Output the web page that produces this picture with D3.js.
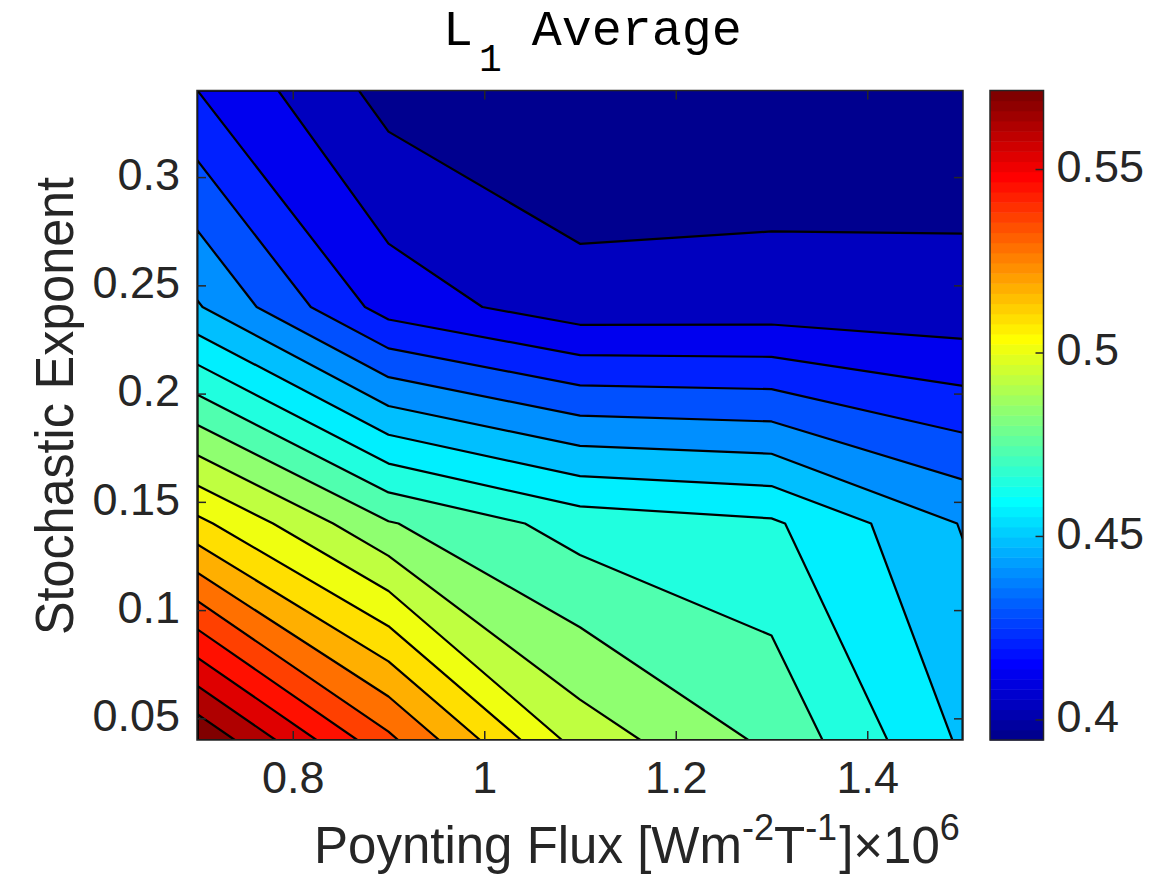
<!DOCTYPE html>
<html lang="en">
<head>
<meta charset="UTF-8">
<title>L1 Average</title>
<script src="https://d3js.org/d3.v7.min.js"></script>
<style>
  body { margin: 0; background: #fff; }
  text { fill: #262626; font-family: "Liberation Sans", Arial, Helvetica, sans-serif; }
  .tick text { font-size: 45px; }
  .title { font-family: "Liberation Mono", "Courier New", Courier, monospace; fill: #000; }
</style>
</head>
<body>
<svg id="chart" width="1173" height="874"></svg>
<script>
// sample grid: Poynting flux (x) and stochastic exponent (y)
const fluxValues = [0.7, 0.9, 1.1, 1.3, 1.5];
const exponentValues = [0.04, 0.14, 0.24, 0.34];
// L1 average, one row per exponent (lowest exponent first)
const l1Rows = [
  [0.5796, 0.5381, 0.4967, 0.4810, 0.4549],
  [0.5118, 0.4836, 0.4702, 0.4666, 0.4469],
  [0.4484, 0.4171, 0.4069, 0.4073, 0.4061],
  [0.4210, 0.4000, 0.3944, 0.3957, 0.3977]
];
const colorLimits = [0.3944, 0.5714];   // range shown on the colour bar
const xTicks = [0.8, 1, 1.2, 1.4];
const yTicks = [0.05, 0.1, 0.15, 0.2, 0.25, 0.3];
const cbarTicks = [0.4, 0.45, 0.5, 0.55];
const nLevels = 20;

const svg = d3.select("#chart");
const plot = { left: 197, right: 963, top: 90.5, bottom: 740 };
const cbar = { left: 990, right: 1043.5 };

const x = d3.scaleLinear().domain(d3.extent(fluxValues)).range([plot.left, plot.right]);
const y = d3.scaleLinear().domain(d3.extent(exponentValues)).range([plot.bottom, plot.top]);

const n = fluxValues.length, m = exponentValues.length;
const values = l1Rows.flat();
const [c0, c1] = colorLimits;
const levels = d3.range(1, nLevels + 1).map(k => c0 + k * (c1 - c0) / nLevels);

// MATLAB jet(64)
function jet(t) {
  const c = v => Math.max(0, Math.min(1, v));
  return d3.rgb(255 * c(1.5 - Math.abs(4 * t - 3)),
                255 * c(1.5 - Math.abs(4 * t - 2)),
                255 * c(1.5 - Math.abs(4 * t - 1))).formatHex();
}
const jetMap = d3.range(64).map(i => jet((i + 1) / 64));
const color = d3.scaleQuantize().domain(colorLimits).range(jetMap);

// contour grid coords -> data coords (samples sit at i + 0.5)
const gx = d3.scaleLinear().domain([0.5, n - 0.5]).range([0, n - 1]).clamp(true);
const gy = d3.scaleLinear().domain([0.5, m - 0.5]).range([0, m - 1]).clamp(true);
const fluxAt = d3.scaleLinear().domain(d3.range(n)).range(fluxValues);
const expAt = d3.scaleLinear().domain(d3.range(m)).range(exponentValues);
const path = d3.geoPath(d3.geoTransform({
  point(px, py) { this.stream.point(x(fluxAt(gx(px))), y(expAt(gy(py)))); }
}));

const contours = d3.contours().size([n, m]).thresholds(levels)(values);

svg.append("clipPath").attr("id", "plotClip")
  .append("rect")
  .attr("x", plot.left).attr("y", plot.top)
  .attr("width", plot.right - plot.left).attr("height", plot.bottom - plot.top);

const area = svg.append("g").attr("clip-path", "url(#plotClip)");
area.append("rect")
  .attr("x", plot.left).attr("y", plot.top)
  .attr("width", plot.right - plot.left).attr("height", plot.bottom - plot.top)
  .attr("fill", color(c0));

area.append("g").selectAll("path")
  .data(contours)
  .join("path")
  .attr("d", path)
  .attr("fill", d => color(d.value));

area.append("g").selectAll("path")
  .data(contours)
  .join("path")
  .attr("d", path)
  .attr("fill", "none")
  .attr("stroke", "#000")
  .attr("stroke-width", 2.2)
  .attr("stroke-linejoin", "round");

// axes, ticks pointing inward on all four sides
const fmt = d3.format("~g");
function styleAxis(g) {
  g.select(".domain").remove();
  g.selectAll(".tick line").attr("stroke", "#262626").attr("stroke-width", 1.5);
}
svg.append("g").attr("transform", `translate(0,${plot.bottom})`)
  .call(d3.axisBottom(x).tickValues(xTicks).tickFormat(fmt).tickSize(-9).tickPadding(21))
  .call(styleAxis);
svg.append("g").attr("transform", `translate(0,${plot.top})`)
  .call(d3.axisTop(x).tickValues(xTicks).tickFormat("").tickSize(-9))
  .call(styleAxis);
svg.append("g").attr("transform", `translate(${plot.left},0)`)
  .call(d3.axisLeft(y).tickValues(yTicks).tickFormat(fmt).tickSize(-9).tickPadding(17))
  .call(styleAxis)
  .selectAll("text").attr("dy", "0.27em");
svg.append("g").attr("transform", `translate(${plot.right},0)`)
  .call(d3.axisRight(y).tickValues(yTicks).tickFormat("").tickSize(-9))
  .call(styleAxis);
svg.selectAll(".tick text").attr("fill", "#262626").style("font-family", null);

svg.append("rect")
  .attr("x", plot.left).attr("y", plot.top)
  .attr("width", plot.right - plot.left).attr("height", plot.bottom - plot.top)
  .attr("fill", "none").attr("stroke", "#262626").attr("stroke-width", 1.5);

// colorbar
const c = d3.scaleLinear().domain(colorLimits).range([plot.bottom, plot.top]);
const step = (c1 - c0) / jetMap.length;
svg.append("g").selectAll("rect")
  .data(jetMap)
  .join("rect")
  .attr("x", cbar.left)
  .attr("width", cbar.right - cbar.left)
  .attr("y", (d, i) => c(c0 + (i + 1) * step))
  .attr("height", (d, i) => c(c0 + i * step) - c(c0 + (i + 1) * step) + 0.5)
  .attr("fill", d => d);
svg.append("g").attr("transform", `translate(${cbar.right},0)`)
  .call(d3.axisRight(c).tickValues(cbarTicks).tickFormat(fmt).tickSize(-8).tickPadding(13))
  .call(styleAxis)
  .selectAll("text").attr("dy", "0.27em").attr("fill", "#262626");
svg.append("rect")
  .attr("x", cbar.left).attr("y", plot.top)
  .attr("width", cbar.right - cbar.left).attr("height", plot.bottom - plot.top)
  .attr("fill", "none").attr("stroke", "#262626").attr("stroke-width", 1.5);

// labels
svg.append("text")
  .attr("transform", "translate(73,406) rotate(-90)")
  .attr("text-anchor", "middle")
  .attr("textLength", 458)
  .attr("lengthAdjust", "spacingAndGlyphs")
  .style("font-size", "53px")
  .text("Stochastic Exponent");

const xl = svg.append("text")
  .attr("x", 314).attr("y", 863)
  .style("font-size", "51px");
xl.append("tspan").text("Poynting Flux [Wm");
xl.append("tspan").attr("dy", -23).style("font-size", "36px").text("-2");
xl.append("tspan").attr("dy", 23).text("T");
xl.append("tspan").attr("dy", -23).style("font-size", "36px").text("-1");
xl.append("tspan").attr("dy", 23).attr("dx", 2).text("]\u00d710");
xl.append("tspan").attr("dy", -23).style("font-size", "36px").text("6");

const title = svg.append("text")
  .attr("class", "title")
  .attr("x", 443).attr("y", 45)
  .style("font-size", "50px");
title.append("tspan").text("L");
title.append("tspan").attr("dy", 26).attr("dx", 6).style("font-size", "38px").text("1");
title.append("tspan").attr("dy", -26).text(" Average");
</script>
</body>
</html>
